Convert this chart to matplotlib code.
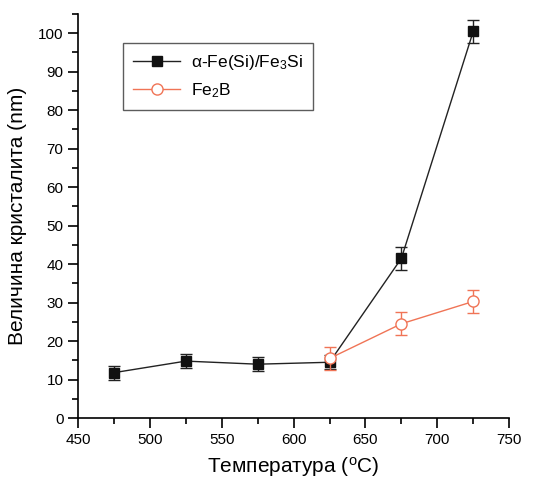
import matplotlib
matplotlib.use('Agg')
import matplotlib.pyplot as plt
from matplotlib.ticker import MultipleLocator

plt.rcParams['font.family'] = ['Liberation Sans', 'DejaVu Sans']
plt.rcParams['mathtext.fontset'] = 'custom'
plt.rcParams['mathtext.rm'] = 'Liberation Sans'
plt.rcParams['mathtext.default'] = 'regular'

# data
temp_fe = [475, 525, 575, 625, 675, 725]
size_fe = [11.8, 14.8, 14.0, 14.5, 41.5, 100.5]
err_fe = [1.8, 1.8, 1.8, 1.8, 3.0, 3.0]

temp_b = [625, 675, 725]
size_b = [15.5, 24.5, 30.3]
err_b = [3.0, 3.0, 3.0]

red = '#f07456'

fig = plt.figure(figsize=(5.36, 4.8), dpi=100)
ax = fig.add_axes([0.1455, 0.129, 0.8045, 0.842])

ax.errorbar(temp_fe, size_fe, yerr=err_fe, fmt='none', ecolor='#222222',
            capsize=4, elinewidth=1.0, capthick=1.0, zorder=2)
ax.plot(temp_fe, size_fe, color='#222222', lw=1.0,
        marker='s', ms=7, mfc='#111111', mec='#111111',
        label='α-Fe(Si)/Fe$_3$Si', zorder=3)
ax.errorbar(temp_b, size_b, yerr=err_b, fmt='none', ecolor=red,
            capsize=4, elinewidth=1.0, capthick=1.0, zorder=4)
ax.plot(temp_b, size_b, color=red, lw=1.0,
        marker='o', ms=8, mfc='white', mec=red,
        label='Fe$_2$B', zorder=5)

ax.set_xlim(450, 750)
ax.set_ylim(0, 105)
ax.xaxis.set_major_locator(MultipleLocator(50))
ax.xaxis.set_minor_locator(MultipleLocator(25))
ax.yaxis.set_major_locator(MultipleLocator(10))
ax.yaxis.set_minor_locator(MultipleLocator(5))
ax.tick_params(which='major', direction='out', length=7, width=1.2, labelsize=11)
ax.tick_params(which='minor', direction='out', length=4, width=1.2)

for side in ['top', 'right']:
    ax.spines[side].set_visible(False)
for side in ['left', 'bottom']:
    ax.spines[side].set_linewidth(1.2)

ax.set_xlabel('Температура ($^{o}$C)', fontsize=15, labelpad=6)
ax.set_ylabel('Величина кристалита (nm)', fontsize=15, labelpad=8)

leg = ax.legend(loc='upper left', bbox_to_anchor=(0.104, 0.928), borderaxespad=0,
                fontsize=12.5, frameon=True, fancybox=False, edgecolor='#333333',
                handlelength=2.7, handletextpad=0.6, borderpad=0.6, labelspacing=0.5)
leg.get_frame().set_linewidth(1.0)

fig.savefig('out.png', dpi=100)
